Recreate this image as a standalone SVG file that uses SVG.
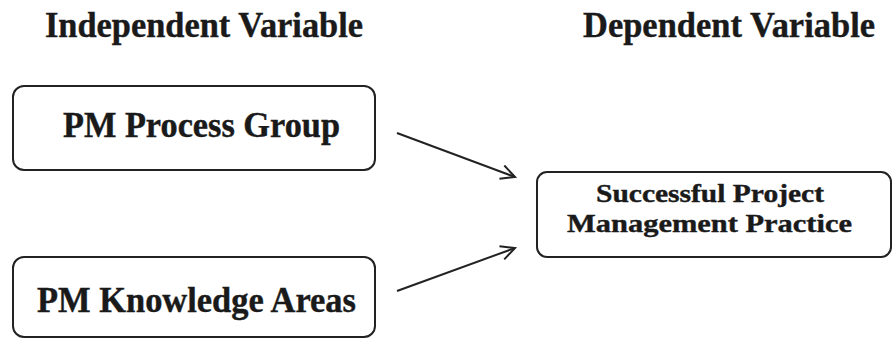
<svg xmlns="http://www.w3.org/2000/svg" width="893" height="339" viewBox="0 0 893 339">
<style>
.t{font-family:"Liberation Serif","Times New Roman",serif;font-weight:bold;fill:#1a1a1a;stroke:#1a1a1a;stroke-width:0.4}
.box{fill:#fff;stroke:#222;stroke-width:2}
.conn{stroke:#222;stroke-width:2;fill:none}
</style>
<defs>
<marker id="arr" markerUnits="userSpaceOnUse" markerWidth="20" markerHeight="20" refX="16" refY="8" orient="auto">
<path d="M2,1 L16,8 L2,15" fill="none" stroke="#222" stroke-width="2"/>
</marker>
</defs>
<rect width="893" height="339" fill="#fff"/>
<g id="title-independent"><text class="t" x="45" y="37" font-size="35" textLength="318" lengthAdjust="spacingAndGlyphs">Independent Variable</text></g>
<g id="title-dependent"><text class="t" x="583" y="37" font-size="35" textLength="292" lengthAdjust="spacingAndGlyphs">Dependent Variable</text></g>
<g id="pm-process-group">
<rect class="box" x="13" y="86" width="362" height="84" rx="11"/>
<text class="t" x="63" y="137" font-size="35" textLength="277" lengthAdjust="spacingAndGlyphs">PM Process Group</text>
</g>
<g id="pm-knowledge-areas">
<rect class="box" x="13" y="257" width="362" height="80" rx="11"/>
<text class="t" x="37" y="312" font-size="35" textLength="319" lengthAdjust="spacingAndGlyphs">PM Knowledge Areas</text>
</g>
<g id="successful-pm-practice">
<rect class="box" x="537" y="172" width="354" height="85" rx="10"/>
<text class="t" x="596" y="202" font-size="26" textLength="228" lengthAdjust="spacingAndGlyphs">Successful Project</text>
<text class="t" x="567" y="232" font-size="26" textLength="285" lengthAdjust="spacingAndGlyphs">Management Practice</text>
</g>
<g id="connectors">
<line class="conn" x1="397" y1="133" x2="515" y2="177" marker-end="url(#arr)"/>
<line class="conn" x1="397" y1="291" x2="515" y2="248" marker-end="url(#arr)"/>
</g>
</svg>
